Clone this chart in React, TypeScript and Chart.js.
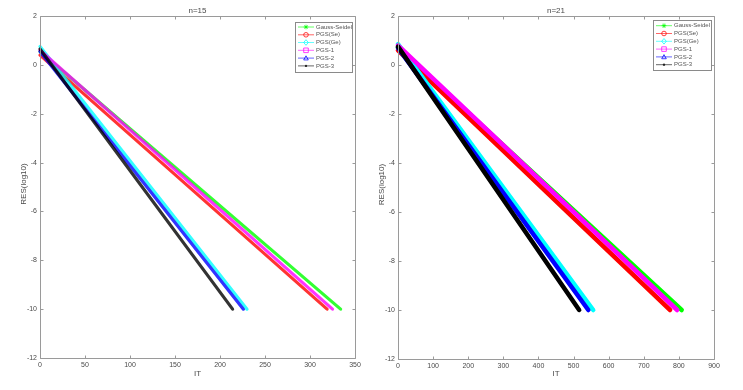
import React, { useEffect, useRef } from 'react';
import { Chart, registerables } from 'chart.js';
Chart.register(...registerables);

const seriesNames = ['Gauss-Seidel', 'PGS(Se)', 'PGS(Ge)', 'PGS-1', 'PGS-2', 'PGS-3'];
const seriesColors = ['#00ff00', '#ff0000', '#00ffff', '#ff00ff', '#0000ff', '#000000'];
const seriesMarkers = ['star', 'circle', 'diamond', 'square', 'triangle', 'dot'];

// n=15 : iteration count (start, end) and RES(log10) (start, end) per series
const n15It = [[0, 334], [0, 319], [0, 230], [0, 325], [0, 226], [0, 214]];
const n15Res = [[0.55, -10], [0.4, -10], [0.75, -10], [0.6, -10], [0.55, -10], [0.65, -10]];
// n=21
const n21It = [[0, 808], [0, 775], [0, 556], [0, 795], [0, 542], [0, 516]];
const n21Res = [[0.7, -10], [0.6, -10], [0.85, -10], [0.8, -10], [0.7, -10], [0.75, -10]];

const yMin = -12, yMax = 2, yStep = 2;
const x15Max = 350, x15Step = 50;
const x21Max = 900, x21Step = 100;

const FONT = '"Liberation Sans", Arial, Helvetica, sans-serif';
const AXIS_COLOR = '#9a9a9a';
const TEXT_COLOR = '#4a4a4a';

function drawMarker(ctx: CanvasRenderingContext2D, kind: string, x: number, y: number, color: string) {
  ctx.save();
  ctx.strokeStyle = color;
  ctx.fillStyle = color;
  ctx.lineWidth = 1;
  const r = 2.3;
  ctx.beginPath();
  if (kind === 'star') {
    ctx.moveTo(x - r, y); ctx.lineTo(x + r, y);
    ctx.moveTo(x, y - r); ctx.lineTo(x, y + r);
    ctx.moveTo(x - r * 0.7, y - r * 0.7); ctx.lineTo(x + r * 0.7, y + r * 0.7);
    ctx.moveTo(x - r * 0.7, y + r * 0.7); ctx.lineTo(x + r * 0.7, y - r * 0.7);
    ctx.stroke();
  } else if (kind === 'circle') {
    ctx.arc(x, y, r, 0, Math.PI * 2); ctx.stroke();
  } else if (kind === 'diamond') {
    ctx.moveTo(x, y - r - 0.5); ctx.lineTo(x + r, y); ctx.lineTo(x, y + r + 0.5); ctx.lineTo(x - r, y); ctx.closePath(); ctx.stroke();
  } else if (kind === 'square') {
    ctx.rect(x - r, y - r, 2 * r, 2 * r); ctx.stroke();
  } else if (kind === 'triangle') {
    ctx.moveTo(x, y - r); ctx.lineTo(x + r, y + r * 0.8); ctx.lineTo(x - r, y + r * 0.8); ctx.closePath(); ctx.stroke();
  } else {
    ctx.arc(x, y, 1.2, 0, Math.PI * 2); ctx.fill();
  }
  ctx.restore();
}

function makeFramePlugin(title: string, xStep: number, xMax: number, yLabelX: number, legendBox: { x: number; y: number; w: number; h: number; rows: number[] }) {
  return {
    id: 'frame',
    afterDraw(chart: any) {
      const ctx: CanvasRenderingContext2D = chart.ctx;
      const { left, right, top, bottom } = chart.chartArea;
      const xs = chart.scales.x;
      const ys = chart.scales.y;
      ctx.save();
      ctx.strokeStyle = AXIS_COLOR;
      ctx.lineWidth = 1;
      const L = Math.round(left) + 0.5, R = Math.round(right) + 0.5, T = Math.round(top) + 0.5, B = Math.round(bottom) + 0.5;
      ctx.beginPath();
      ctx.rect(L, T, R - L, B - T);
      ctx.stroke();
      const tl = 3;
      ctx.beginPath();
      for (let v = 0; v <= xMax; v += xStep) {
        const px = Math.round(xs.getPixelForValue(v)) + 0.5;
        ctx.moveTo(px, B); ctx.lineTo(px, B - tl);
        ctx.moveTo(px, T); ctx.lineTo(px, T + tl);
      }
      for (let v = yMin; v <= yMax; v += yStep) {
        const py = Math.round(ys.getPixelForValue(v)) + 0.5;
        ctx.moveTo(L, py); ctx.lineTo(L + tl, py);
        ctx.moveTo(R, py); ctx.lineTo(R - tl, py);
      }
      ctx.stroke();

      // title & axis labels
      ctx.fillStyle = TEXT_COLOR;
      ctx.font = `8px ${FONT}`;
      ctx.textAlign = 'center';
      ctx.textBaseline = 'middle';
      ctx.fillText(title, (left + right) / 2, 11);
      ctx.fillText('IT', (left + right) / 2, 374);
      ctx.save();
      ctx.translate(yLabelX, (top + bottom) / 2 - 3);
      ctx.rotate(-Math.PI / 2);
      ctx.fillText('RES(log10)', 0, 0);
      ctx.restore();

      // legend
      const lb = legendBox;
      ctx.fillStyle = '#ffffff';
      ctx.fillRect(lb.x, lb.y, lb.w, lb.h);
      ctx.strokeStyle = '#8a8a8a';
      ctx.strokeRect(lb.x + 0.5, lb.y + 0.5, lb.w, lb.h);
      ctx.font = `6px ${FONT}`;
      ctx.textAlign = 'left';
      seriesNames.forEach((name, i) => {
        const ry = lb.rows[i];
        ctx.strokeStyle = seriesColors[i];
        ctx.globalAlpha = 0.6;
        ctx.beginPath();
        ctx.moveTo(lb.x + 3, ry + 0.5);
        ctx.lineTo(lb.x + 19, ry + 0.5);
        ctx.stroke();
        ctx.globalAlpha = 0.75;
        drawMarker(ctx, seriesMarkers[i], lb.x + 11, ry + 0.5, seriesColors[i]);
        ctx.globalAlpha = 1;
        ctx.fillStyle = '#555555';
        ctx.fillText(name, lb.x + 21, ry + 0.5);
      });
      ctx.restore();
    },
  };
}

function buildChart(
  canvas: HTMLCanvasElement,
  its: number[][],
  res: number[][],
  xMax: number,
  xStep: number,
  yWidth: number,
  xHeight: number,
  padRight: number,
  lineWidth: number,
  alpha: number,
  plugin: any
) {
  const datasets = seriesNames.map((name, i) => {
    const c = seriesColors[i];
    const r = parseInt(c.slice(1, 3), 16), g = parseInt(c.slice(3, 5), 16), b = parseInt(c.slice(5, 7), 16);
    return {
      label: name,
      data: its[i].map((x, k) => ({ x, y: res[i][k] })),
      borderColor: `rgba(${r},${g},${b},${alpha})`,
      backgroundColor: c,
      borderWidth: lineWidth,
      pointRadius: 0,
      tension: 0,
      order: seriesNames.length - i,
      borderCapStyle: 'round' as const,
      clip: 4,
    };
  });
  return new Chart(canvas, {
    type: 'line',
    data: { datasets },
    plugins: [plugin],
    options: {
      animation: false,
      responsive: false,
      devicePixelRatio: 1,
      layout: { padding: { left: 0, top: 16, right: padRight, bottom: 0 } },
      plugins: { legend: { display: false }, tooltip: { enabled: false }, title: { display: false } },
      scales: {
        x: {
          type: 'linear',
          min: 0,
          max: xMax,
          ticks: { stepSize: xStep, padding: 3, color: TEXT_COLOR, font: { family: FONT, size: 7 }, maxRotation: 0 },
          grid: { display: true, drawOnChartArea: false, drawTicks: false },
          border: { display: false },
          afterFit: (s: any) => { s.height = xHeight; },
        },
        y: {
          type: 'linear',
          min: yMin,
          max: yMax,
          ticks: { stepSize: yStep, padding: 3, color: TEXT_COLOR, font: { family: FONT, size: 7 } },
          grid: { display: true, drawOnChartArea: false, drawTicks: false },
          border: { display: false },
          afterFit: (s: any) => { s.width = yWidth; },
        },
      },
    },
  } as any);
}

export default function App() {
  const leftRef = useRef<HTMLCanvasElement>(null);
  const rightRef = useRef<HTMLCanvasElement>(null);

  useEffect(() => {
    const leftPlugin = makeFramePlugin('n=15', x15Step, x15Max, 24, {
      x: 295, y: 22, w: 57, h: 50, rows: [26.5, 34.3, 42, 49.8, 57.6, 65.4],
    });
    const rightPlugin = makeFramePlugin('n=21', x21Step, x21Max, 11, {
      x: 282, y: 20, w: 58, h: 50, rows: [25.2, 33, 40.8, 48.6, 56.4, 64.2],
    });
    const c1 = buildChart(leftRef.current!, n15It, n15Res, x15Max, x15Step, 40, 32, 16, 3.2, 0.8, leftPlugin);
    const c2 = buildChart(rightRef.current!, n21It, n21Res, x21Max, x21Step, 27, 31, 29, 4.5, 1, rightPlugin);
    return () => { c1.destroy(); c2.destroy(); };
  }, []);

  return (
    <div style={{ position: 'fixed', left: 0, top: 0, width: 743, height: 390, background: '#fff' }}>
      <canvas ref={leftRef} width={371} height={390} style={{ position: 'absolute', left: 0, top: 0, width: 371, height: 390 }} />
      <canvas ref={rightRef} width={372} height={390} style={{ position: 'absolute', left: 371, top: 0, width: 372, height: 390 }} />
    </div>
  );
}
